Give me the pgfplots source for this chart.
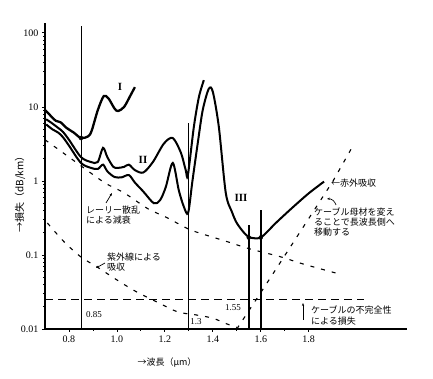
\documentclass[border=0pt]{standalone}
\usepackage{fontspec}
\setmainfont{Liberation Serif}
\newfontfamily\jp{Noto Sans CJK JP}
\usepackage{pgfplots}
\pgfplotsset{compat=1.18}
\usetikzlibrary{arrows.meta}
\begin{document}
\begin{tikzpicture}
\path[use as bounding box] (0,0) rectangle (433pt,379pt);
\begin{axis}[
  at={(45pt,50pt)}, anchor=south west,
  scale only axis, width=362pt, height=306pt,
  xmin=0.7, xmax=2.21, ymode=log, ymin=0.01, ymax=136,
  axis x line=bottom, axis y line=left,
  axis line style={-, line width=1.8pt},
  xtick={0.8,1.0,1.2,1.4,1.6,1.8},
  xticklabels={0.8,1.0,1.2,1.4,1.6,1.8},
  minor xtick={0.9,1.1,1.3,1.5,1.7},
  ytick={0.01,0.1,1,10,100},
  yticklabels={0.01,0.1,1,10,100},
  tick align=outside, major tick length=3pt, minor tick length=2pt,
  tick style={line width=0.8pt, black},
  ticklabel style={font=\fontsize{10}{12}\selectfont},
  clip=false,
]
% vertical marker lines
\addplot[line width=0.8pt] coordinates {(0.85,0.01) (0.85,124)};
\addplot[line width=0.8pt] coordinates {(1.3,0.01) (1.3,6.0)};
\addplot[line width=1.6pt] coordinates {(1.55,0.01) (1.55,0.254)};
\addplot[line width=1.6pt] coordinates {(1.6,0.01) (1.6,0.40)};
% Rayleigh scattering
\addplot[line width=1.1pt, dash pattern=on 4pt off 7pt, smooth] coordinates {
 (0.70,3.6) (0.80,2.1) (0.85,1.6) (0.95,0.94) (1.03,0.69) (1.13,0.42) (1.20,0.33)
 (1.27,0.25) (1.32,0.21) (1.45,0.155) (1.55,0.122) (1.68,0.095) (1.78,0.075) (1.94,0.054)};
% UV absorption
\addplot[line width=1.1pt, dash pattern=on 4pt off 7pt, smooth] coordinates {
 (0.71,0.27) (0.78,0.15) (0.85,0.094) (0.92,0.068) (1.00,0.046) (1.08,0.032)
 (1.175,0.0225) (1.254,0.017) (1.33,0.0155) (1.40,0.014) (1.45,0.012) (1.50,0.0105)};
% IR absorption
\addplot[line width=1.1pt, dash pattern=on 4pt off 7pt] coordinates {
 (1.50,0.01) (1.60,0.031) (1.70,0.098) (1.80,0.31) (1.90,0.98) (1.99,3.2)};
% imperfection
\addplot[line width=1.6pt, dash pattern=on 8pt off 5pt] coordinates {(0.7,0.025) (2.03,0.025)};
% Curve I
\addplot[line width=2.3pt, smooth, tension=0.5] coordinates {
 (0.70,9.1) (0.72,7.8) (0.745,6.5) (0.765,6.2) (0.79,5.2) (0.82,4.5) (0.85,3.8)
 (0.88,4.0) (0.895,4.8) (0.92,9) (0.945,14) (0.965,13) (0.99,9.5) (1.005,8.8)
 (1.03,10) (1.055,14) (1.075,18.5)};
% Curve II
\addplot[line width=2pt, smooth, tension=0.5] coordinates {
 (0.705,6.8) (0.73,6.0) (0.755,5.2) (0.775,4.6) (0.80,3.6) (0.85,2.1) (0.892,1.8)
 (0.92,1.8) (0.942,2.8) (0.96,2.1) (0.985,1.55) (1.004,1.5) (1.03,1.55) (1.05,1.66)
 (1.075,1.4) (1.11,1.3) (1.15,1.8) (1.196,3.2) (1.233,3.8) (1.267,2.4) (1.287,1.4)
 (1.296,1.2) (1.321,5.4) (1.342,13.6) (1.3625,23)};
% Curve III
\addplot[line width=2pt, smooth, tension=0.5] coordinates {
 (0.705,5.8) (0.73,5.0) (0.755,4.5) (0.775,3.9) (0.80,3.0) (0.85,1.75) (0.892,1.5)
 (0.92,1.45) (0.942,1.66) (0.96,1.35) (0.99,1.13) (1.02,1.12) (1.05,1.2) (1.075,0.95)
 (1.11,0.72) (1.154,0.5) (1.18,0.55) (1.204,0.83) (1.233,1.75) (1.258,0.75) (1.279,0.45)
 (1.297,0.37) (1.315,1.0) (1.3375,3.3) (1.358,9.1) (1.383,17.5) (1.40,16) (1.425,5.4)
 (1.454,0.69) (1.48,0.38) (1.50,0.27) (1.53,0.2) (1.55,0.175) (1.575,0.168) (1.60,0.172)
 (1.63,0.21) (1.66,0.265) (1.73,0.43) (1.80,0.68) (1.864,0.98)};
% dots
\addplot[only marks, mark=*, mark size=2pt] coordinates {(0.85,3.8) (1.55,0.172) (1.6,0.172)};
\end{axis}
\begin{scope}[x=1pt, y=-1pt, yshift=379pt]
 \node[rotate=90, font=\jp\fontsize{10}{12}\selectfont] at (20,192) {→損失（dB/km）};
 \node[font=\jp\fontsize{9}{11}\selectfont] at (167,363) {→波長（μm）};
 \node[font=\bfseries\fontsize{11}{12}\selectfont] at (120,87) {I};
 \node[font=\bfseries\fontsize{11}{12}\selectfont] at (143,160) {II};
 \node[font=\bfseries\fontsize{11}{12}\selectfont] at (241,198) {III};
 \node[anchor=west, align=left, font=\jp\fontsize{9}{10.5}\selectfont, inner sep=0pt] at (86,215) {レーリー散乱\\による減衰};
 \node[anchor=west, align=left, font=\jp\fontsize{9}{10.5}\selectfont, inner sep=0pt] at (107,262) {紫外線による\\吸収};
 \node[anchor=west, align=left, font=\jp\fontsize{9}{10}\selectfont, inner sep=0pt] at (314,222) {ケーブル母材を変え\\ることで長波長側へ\\移動する};
 \node[anchor=west, align=left, font=\jp\fontsize{9}{11}\selectfont, inner sep=0pt] at (311,316) {ケーブルの不完全性\\による損失};
 \node[anchor=west, font=\jp\fontsize{9}{11}\selectfont, inner sep=0pt] at (331,183) {←赤外吸収};
 \node[font=\fontsize{9}{10}\selectfont] at (94,315) {0.85};
 \node[font=\fontsize{9}{10}\selectfont] at (196,322) {1.3};
 \node[font=\fontsize{9}{10}\selectfont] at (233,308) {1.55};
 \draw[line width=0.7pt, -{Stealth[length=3pt]}] (106,203) -- (112,193);
 \draw[line width=0.7pt, -{Stealth[length=3pt]}] (105,263) -- (96,268);
 \draw[line width=0.7pt, -{Stealth[length=3pt]}] (303,320) -- (303,303);
 \draw[line width=0.7pt, -{Stealth[length=3pt]}] (336,205) to[bend right=40] (327,199);
\end{scope}
\end{tikzpicture}
\end{document}
